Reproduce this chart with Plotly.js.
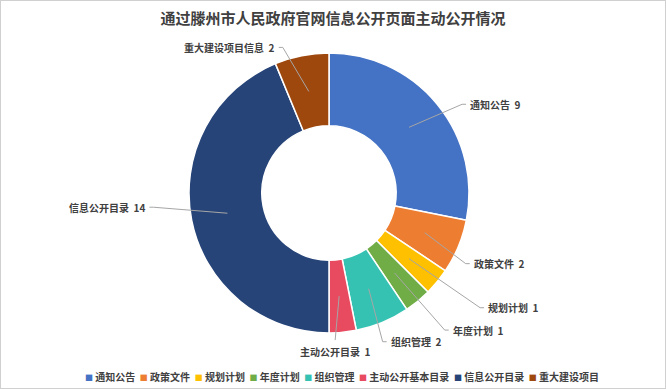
<!DOCTYPE html>
<html>
<head>
<meta charset="utf-8">
<script src="https://cdn.plot.ly/plotly-3.0.1.min.js"></script>
<style>
  html, body { margin: 0; padding: 0; background: #fff; }
  #frame { width: 666px; height: 389px; box-sizing: border-box; border: 1px solid #d0d0d0; }
  #chart { width: 664px; height: 387px; }
</style>
</head>
<body>
<div id="frame"><div id="chart"></div></div>
<script>
// ---- data ----
const categories = ['通知公告', '政策文件', '规划计划', '年度计划', '组织管理', '主动公开基本目录', '信息公开目录', '重大建设项目'];
const labelNames = ['通知公告', '政策文件', '规划计划', '年度计划', '组织管理', '主动公开目录', '信息公开目录', '重大建设项目信息'];
const counts = [9, 2, 1, 1, 2, 1, 14, 2];
const colors = ['#4472C4', '#ED7D31', '#FFC000', '#70AD47', '#36C2B2', '#E84A5F', '#264478', '#9E480E'];
const titleText = '通过滕州市人民政府官网信息公开页面主动公开情况';

// ---- label placement (pixel offsets of the leader elbow from the slice's mid-ring point) ----
const labelOffsets = [[53, -23, 'r'], [41, 31, 'r'], [71, 49, 'r'], [50, 57, 'r'], [14, 53, 'r'], [-4, 44, 'b'], [-74, -6, 'l'], [-26, -44, 'l']];

const W = 664, H = 387;
const M = {l: 0, r: 8, t: 52, b: 55};
const pw = W - M.l - M.r, ph = H - M.t - M.b;
const cx = M.l + pw / 2, cy = M.t + ph / 2;
const R = Math.min(pw, ph) / 2;
const hole = 0.48;
const midR = (R + R * hole) / 2;
const toX = px => (px - M.l) / pw;
const toY = py => 1 - (py - M.t) / ph;

const total = counts.reduce((a, b) => a + b, 0);
const FONT = '"Noto Sans CJK SC", "Noto Sans", sans-serif';
const lineStyle = {color: '#A6A6A6', width: 1};

const shapes = [];
const annotations = [];
let cum = 0;
counts.forEach((v, i) => {
  const theta = (cum + v / 2) / total * 2 * Math.PI;
  cum += v;
  const mx = cx + midR * Math.sin(theta);
  const my = cy - midR * Math.cos(theta);
  const [dx, dy, side] = labelOffsets[i];
  const ex = mx + dx, ey = my + dy;
  shapes.push({type: 'line', xref: 'paper', yref: 'paper', x0: toX(mx), y0: toY(my), x1: toX(ex), y1: toY(ey), line: lineStyle});
  let tx = ex, ty = ey, xanchor = 'center', yanchor = 'middle';
  if (side === 'r' || side === 'l') {
    const s = side === 'r' ? 1 : -1;
    shapes.push({type: 'line', xref: 'paper', yref: 'paper', x0: toX(ex), y0: toY(ey), x1: toX(ex + 4 * s), y1: toY(ey), line: lineStyle});
    tx = ex + 6 * s;
    xanchor = side === 'r' ? 'left' : 'right';
  } else {
    ty = ey + 2;
    yanchor = 'top';
  }
  annotations.push({
    xref: 'paper', yref: 'paper', x: toX(tx), y: toY(ty), xanchor, yanchor,
    text: labelNames[i] + '\u00a0\u00a0' + counts[i], showarrow: false,
    font: {family: FONT, size: 10, color: '#404040', weight: 'bold'}
  });
});

// legend row
const legendText = categories.map((c, i) =>
  `<span style="color:${colors[i]};font-size:8px">■</span>\u00a0${c}`).join('\u00a0\u00a0');
annotations.push({
  xref: 'paper', yref: 'paper', x: toX(W / 2 + 9), y: toY(375), xanchor: 'center', yanchor: 'middle',
  text: legendText, showarrow: false,
  font: {family: FONT, size: 10, color: '#404040', weight: 'bold'}
});

const data = [{
  type: 'pie',
  labels: categories,
  values: counts,
  hole: hole,
  sort: false,
  direction: 'clockwise',
  rotation: 0,
  textinfo: 'none',
  hoverinfo: 'label+value',
  marker: {colors: colors, line: {color: '#ffffff', width: 1.5}},
  domain: {x: [0, 1], y: [0, 1]}
}];

const layout = {
  width: W, height: H,
  margin: M,
  paper_bgcolor: '#ffffff',
  showlegend: false,
  title: {
    text: titleText, xref: 'container', yref: 'container', x: 0.5, y: 1 - 18 / H,
    xanchor: 'center', yanchor: 'middle',
    font: {family: FONT, size: 15, color: '#404040', weight: 'bold'}
  },
  shapes: shapes,
  annotations: annotations
};

Plotly.newPlot('chart', data, layout, {displayModeBar: false, staticPlot: true});
</script>
</body>
</html>
